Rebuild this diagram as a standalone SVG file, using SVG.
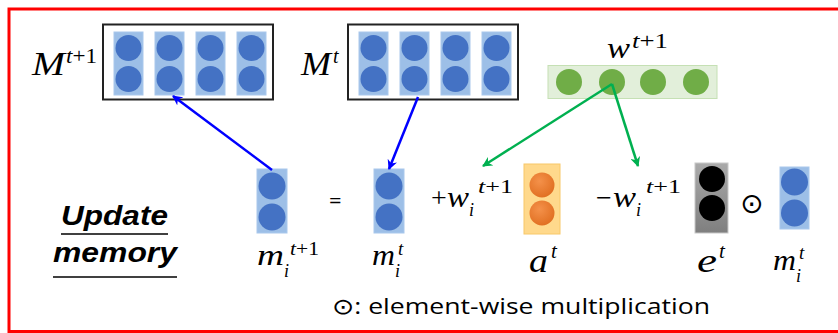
<svg xmlns="http://www.w3.org/2000/svg" width="838" height="333" viewBox="0 0 838 333">
<defs>
<style>
.math{font-family:"Liberation Serif","DejaVu Serif",serif;font-style:italic;fill:#000}
.up{font-family:"Liberation Serif","DejaVu Serif",serif;fill:#000}
.bar{fill:#9DBFE7;stroke:#A9C8EC;stroke-width:1}
.bc{fill:#4472C4}
.box{fill:#fff;stroke:#222;stroke-width:2}
.head{font-family:"Liberation Sans",Arial,sans-serif;font-weight:bold;font-style:italic;font-size:28px;fill:#000}
.cap{font-family:"Open Sans","DejaVu Sans",sans-serif;font-size:22px;fill:#000}
.blue{stroke:#0000FF;stroke-width:2.5;fill:none}
.green{stroke:#00B050;stroke-width:2.5;fill:none}
</style>
<marker id="ab" viewBox="0 0 10 10" refX="9" refY="5" markerWidth="10" markerHeight="10" markerUnits="userSpaceOnUse" orient="auto"><path d="M0,0 L10,5 L0,10 L3,5 Z" fill="#0000FF"/></marker>
<marker id="ag" viewBox="0 0 10 10" refX="9" refY="5" markerWidth="10" markerHeight="10" markerUnits="userSpaceOnUse" orient="auto"><path d="M0,0 L10,5 L0,10 L3,5 Z" fill="#00B050"/></marker>
<radialGradient id="og" cx="0.4" cy="0.35" r="0.7"><stop offset="0" stop-color="#F4914A"/><stop offset="1" stop-color="#E06E20"/></radialGradient>
<linearGradient id="gg" x1="0" y1="0" x2="0" y2="1"><stop offset="0" stop-color="#AAAAAA"/><stop offset="1" stop-color="#7F7F7F"/></linearGradient>
</defs>
<rect x="0" y="0" width="838" height="333" fill="#fff"/>
<path d="M845,9 H9 V331.5 H845" fill="none" stroke="#FF0000" stroke-width="3"/>

<g id="Mt1">
<text class="math" x="32" y="75" font-size="34" textLength="33" lengthAdjust="spacingAndGlyphs">M</text>
<text class="up" x="66" y="63" font-size="20" textLength="31" lengthAdjust="spacingAndGlyphs"><tspan font-style="italic">t</tspan>+1</text>
<rect class="box" x="103" y="24.5" width="170" height="75"/>
<rect class="bar" x="114" y="32" width="29" height="63"/><circle class="bc" cx="128.5" cy="48" r="13"/><circle class="bc" cx="128.5" cy="79" r="13"/>
<rect class="bar" x="155" y="32" width="29" height="63"/><circle class="bc" cx="169.5" cy="48" r="13"/><circle class="bc" cx="169.5" cy="79" r="13"/>
<rect class="bar" x="196" y="32" width="29" height="63"/><circle class="bc" cx="210.5" cy="48" r="13"/><circle class="bc" cx="210.5" cy="79" r="13"/>
<rect class="bar" x="237" y="32" width="29" height="63"/><circle class="bc" cx="251.5" cy="48" r="13"/><circle class="bc" cx="251.5" cy="79" r="13"/>
</g>

<g id="Mt">
<text class="math" x="301" y="75" font-size="34" textLength="30" lengthAdjust="spacingAndGlyphs">M</text>
<text class="math" x="333" y="63" font-size="20">t</text>
<rect class="box" x="348" y="24.5" width="170" height="75"/>
<rect class="bar" x="359" y="32" width="29" height="63"/><circle class="bc" cx="373.5" cy="48" r="13"/><circle class="bc" cx="373.5" cy="79" r="13"/>
<rect class="bar" x="400" y="32" width="29" height="63"/><circle class="bc" cx="414.5" cy="48" r="13"/><circle class="bc" cx="414.5" cy="79" r="13"/>
<rect class="bar" x="441" y="32" width="29" height="63"/><circle class="bc" cx="455.5" cy="48" r="13"/><circle class="bc" cx="455.5" cy="79" r="13"/>
<rect class="bar" x="482" y="32" width="29" height="63"/><circle class="bc" cx="496.5" cy="48" r="13"/><circle class="bc" cx="496.5" cy="79" r="13"/>
</g>

<g id="w">
<text class="math" x="607" y="58" font-size="29" textLength="23" lengthAdjust="spacingAndGlyphs">w</text>
<text class="up" x="632" y="48" font-size="20" textLength="36" lengthAdjust="spacingAndGlyphs"><tspan font-style="italic">t</tspan>+1</text>
<rect x="548" y="65.5" width="169" height="33" fill="#E2EFDA" stroke="#C5E0B4" stroke-width="1"/>
<circle cx="569" cy="82" r="13" fill="#70AD47"/>
<circle cx="612" cy="82" r="13" fill="#70AD47"/>
<circle cx="653" cy="82" r="13" fill="#70AD47"/>
<circle cx="696" cy="82" r="13" fill="#70AD47"/>
</g>

<g id="title">
<text class="head" x="61" y="225" textLength="107" lengthAdjust="spacingAndGlyphs">Update</text>
<line x1="61" y1="234" x2="168" y2="234" stroke="#000" stroke-width="1.5"/>
<text class="head" x="53" y="262" textLength="124" lengthAdjust="spacingAndGlyphs">memory</text>
<line x1="53" y1="277" x2="177" y2="277" stroke="#000" stroke-width="1.5"/>
</g>

<g id="m_t1">
<rect class="bar" x="257" y="169" width="30" height="64"/><circle class="bc" cx="272" cy="186" r="13.5"/><circle class="bc" cx="272" cy="217" r="13.5"/>
<text class="math" x="257" y="265" font-size="30" textLength="27" lengthAdjust="spacingAndGlyphs">m</text>
<text class="math" x="284" y="277" font-size="18">i</text>
<text class="up" x="290" y="255" font-size="19" textLength="29" lengthAdjust="spacingAndGlyphs"><tspan font-style="italic">t</tspan>+1</text>
</g>

<text class="cap" x="329" y="208" font-size="24">=</text>

<g id="m_t">
<rect class="bar" x="374" y="169" width="30" height="64"/><circle class="bc" cx="389" cy="186" r="13.5"/><circle class="bc" cx="389" cy="217" r="13.5"/>
<text class="math" x="372" y="265" font-size="30" textLength="23" lengthAdjust="spacingAndGlyphs">m</text>
<text class="math" x="395" y="277" font-size="18">i</text>
<text class="math" x="398" y="255" font-size="19">t</text>
</g>

<g id="plus_w">
<text class="up" x="431" y="207" font-size="28">+</text>
<text class="math" x="447" y="207" font-size="29" textLength="22" lengthAdjust="spacingAndGlyphs">w</text>
<text class="math" x="469" y="216" font-size="18">i</text>
<text class="up" x="478" y="193" font-size="19" textLength="35" lengthAdjust="spacingAndGlyphs"><tspan font-style="italic">t</tspan>+1</text>
</g>

<g id="a_t">
<rect x="524" y="164" width="36" height="70" fill="#FFD98C" stroke="#F8C868" stroke-width="1"/>
<circle cx="542" cy="185" r="12.5" fill="url(#og)"/>
<circle cx="542" cy="213" r="12.5" fill="url(#og)"/>
<text class="math" x="529" y="272" font-size="33" textLength="19" lengthAdjust="spacingAndGlyphs">a</text>
<text class="math" x="551" y="258" font-size="21">t</text>
</g>

<g id="minus_w">
<text class="up" x="596" y="207" font-size="28">−</text>
<text class="math" x="613" y="207" font-size="29" textLength="23" lengthAdjust="spacingAndGlyphs">w</text>
<text class="math" x="636" y="216" font-size="18">i</text>
<text class="up" x="646" y="193" font-size="19" textLength="35" lengthAdjust="spacingAndGlyphs"><tspan font-style="italic">t</tspan>+1</text>
</g>

<g id="e_t">
<rect x="695" y="163" width="33" height="70" fill="url(#gg)" stroke="#C8C8C8" stroke-width="1"/>
<circle cx="712" cy="179" r="13" fill="#000"/>
<circle cx="712" cy="208" r="13" fill="#000"/>
<text class="math" x="697" y="272" font-size="33" textLength="20" lengthAdjust="spacingAndGlyphs">e</text>
<text class="math" x="719" y="258" font-size="21">t</text>
</g>

<text x="740" y="213" font-family="DejaVu Sans,sans-serif" font-size="28" fill="#000">⊙</text>

<g id="m_t_right">
<rect class="bar" x="780" y="167" width="29" height="62"/><circle class="bc" cx="794.5" cy="182" r="13.5"/><circle class="bc" cx="794.5" cy="213" r="13.5"/>
<text class="math" x="773" y="270" font-size="30" textLength="23" lengthAdjust="spacingAndGlyphs">m</text>
<text class="math" x="796" y="282" font-size="18">i</text>
<text class="math" x="799" y="259" font-size="19">t</text>
</g>

<text class="cap" x="332" y="314" textLength="378" lengthAdjust="spacingAndGlyphs">⊙: element-wise multiplication</text>

<g id="connectors">
<line class="blue" x1="272" y1="170" x2="173" y2="96" marker-end="url(#ab)"/>
<line class="blue" x1="418" y1="97" x2="389" y2="169" marker-end="url(#ab)"/>
<line class="green" x1="612" y1="84" x2="483" y2="166" marker-end="url(#ag)"/>
<line class="green" x1="612" y1="84" x2="638" y2="166" marker-end="url(#ag)"/>
</g>
</svg>
